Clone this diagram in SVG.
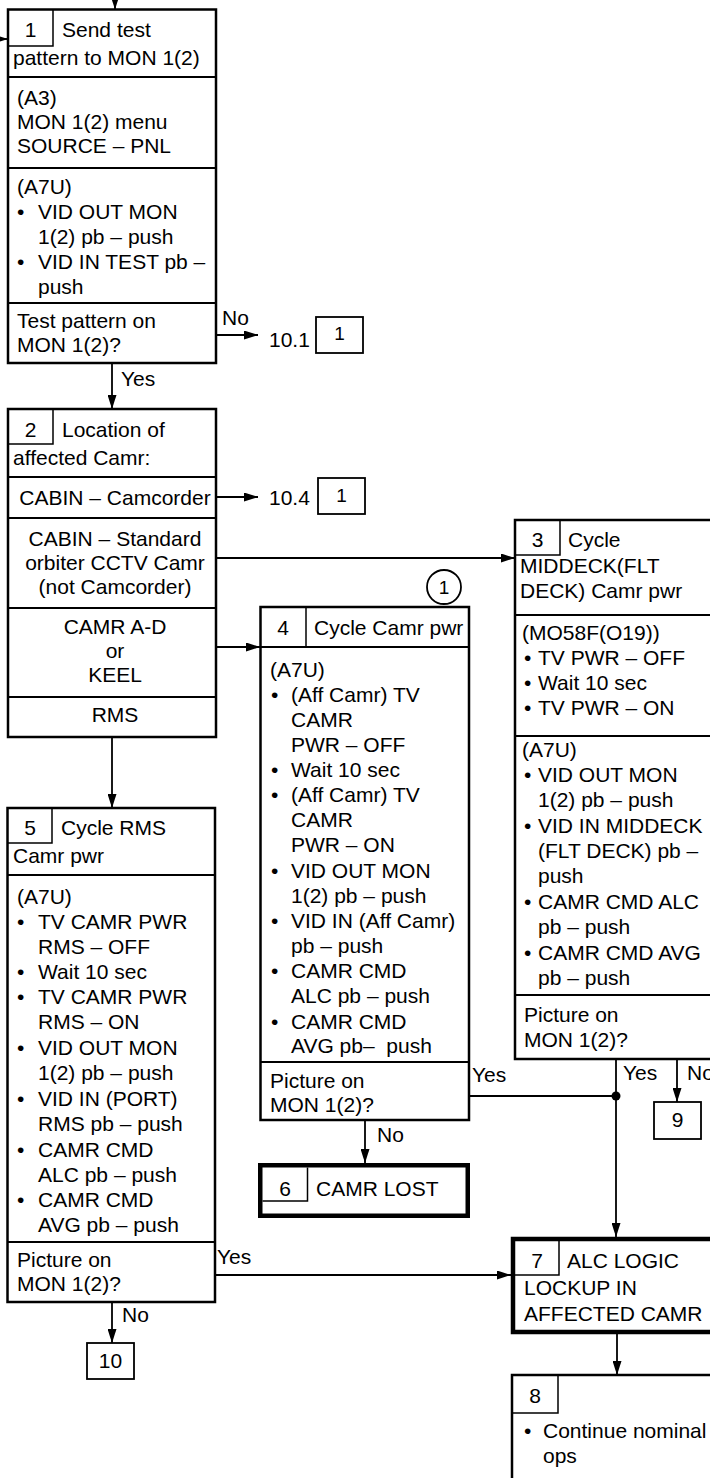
<svg xmlns="http://www.w3.org/2000/svg" width="710" height="1478" viewBox="0 0 710 1478">
<style>
text{font-family:"Liberation Sans",Arial,Helvetica,sans-serif;font-size:21px;fill:#000}
.c{text-anchor:middle}
.s{font-size:19px}
.box{fill:#fff;stroke:#000;stroke-width:2.5}
.thick{fill:#fff;stroke:#000;stroke-width:4.5}
.div{stroke:#000;stroke-width:2}
.sub{fill:none;stroke:#000;stroke-width:1.5}
.conn{stroke:#000;stroke-width:1.8;fill:none}
.arr{marker-end:url(#ah)}
.ref{fill:#fff;stroke:#000;stroke-width:1.8}
</style>
<defs>
<marker id="ah" markerUnits="userSpaceOnUse" markerWidth="14" markerHeight="9" refX="14" refY="4.5" orient="auto">
<path d="M0,0 L14,4.5 L0,9 z" fill="#000"/>
</marker>
</defs>
<rect width="710" height="1478" fill="#fff"/>

<g id="connectors">
<line class="conn arr" x1="115" y1="-10" x2="115" y2="9.5"/>
<line class="conn arr" x1="-10" y1="39" x2="8" y2="39"/>
<line class="conn arr" x1="216" y1="335" x2="258" y2="335"/>
<text x="222" y="325">No</text>
<line class="conn arr" x1="112" y1="363" x2="112" y2="409"/>
<text x="121" y="386">Yes</text>
<line class="conn arr" x1="216" y1="497" x2="258" y2="497"/>
<line class="conn arr" x1="216" y1="558" x2="515" y2="558"/>
<line class="conn arr" x1="216" y1="647" x2="260" y2="647"/>
<line class="conn arr" x1="112" y1="737" x2="112" y2="808"/>
<line class="conn arr" x1="365" y1="1120" x2="365" y2="1163"/>
<text x="377" y="1142">No</text>
<line class="conn" x1="469" y1="1096" x2="616" y2="1096"/>
<text x="472" y="1082">Yes</text>
<line class="conn arr" x1="616" y1="1059" x2="616" y2="1237"/>
<circle cx="616" cy="1096" r="4.5" fill="#000"/>
<text x="623" y="1080">Yes</text>
<line class="conn arr" x1="677" y1="1059" x2="677" y2="1102"/>
<text x="687" y="1080">No</text>
<line class="conn arr" x1="215" y1="1275" x2="511" y2="1275"/>
<text x="217" y="1264">Yes</text>
<line class="conn arr" x1="112" y1="1302" x2="112" y2="1343"/>
<text x="122" y="1322">No</text>
<line class="conn arr" x1="617" y1="1334" x2="617" y2="1375"/>
</g>

<g id="ref101">
<text x="269" y="347">10.1</text>
<rect class="ref" x="316" y="317" width="47" height="36"/>
<text class="c s" x="339.5" y="340">1</text>
</g>
<g id="ref104">
<text x="269" y="505">10.4</text>
<rect class="ref" x="318" y="478" width="47" height="36"/>
<text class="c s" x="341.5" y="502">1</text>
</g>

<g id="n1">
<rect class="box" x="8" y="9.5" width="208" height="353.5"/>
<path class="sub" d="M8,46 H53 V9.5"/>
<text class="c" x="30.5" y="37">1</text>
<text x="62" y="37">Send test</text>
<text x="13" y="65">pattern to MON 1(2)</text>
<line class="div" x1="8" y1="77" x2="216" y2="77"/>
<text x="17" y="105">(A3)</text>
<text x="17" y="129">MON 1(2) menu</text>
<text x="17" y="153">SOURCE – PNL</text>
<line class="div" x1="8" y1="168" x2="216" y2="168"/>
<text x="17" y="194">(A7U)</text>
<text x="17" y="219">•</text><text x="38" y="219">VID OUT MON</text>
<text x="38" y="244">1(2) pb – push</text>
<text x="17" y="269">•</text><text x="38" y="269">VID IN TEST pb –</text>
<text x="38" y="294">push</text>
<line class="div" x1="8" y1="303" x2="216" y2="303"/>
<text x="17" y="328">Test pattern on</text>
<text x="17" y="352">MON 1(2)?</text>
</g>

<g id="n2">
<rect class="box" x="8" y="409" width="208" height="328"/>
<path class="sub" d="M8,444 H53 V409"/>
<text class="c" x="30.5" y="437">2</text>
<text x="62" y="437">Location of</text>
<text x="13" y="465">affected Camr:</text>
<line class="div" x1="8" y1="477" x2="216" y2="477"/>
<text class="c" x="115" y="505">CABIN – Camcorder</text>
<line class="div" x1="8" y1="518" x2="216" y2="518"/>
<text class="c" x="115" y="546">CABIN – Standard</text>
<text class="c" x="115" y="570">orbiter CCTV Camr</text>
<text class="c" x="115" y="594">(not Camcorder)</text>
<line class="div" x1="8" y1="608" x2="216" y2="608"/>
<text class="c" x="115" y="634">CAMR A-D</text>
<text class="c" x="115" y="658">or</text>
<text class="c" x="115" y="682">KEEL</text>
<line class="div" x1="8" y1="697" x2="216" y2="697"/>
<text class="c" x="115" y="722">RMS</text>
</g>

<g id="n3">
<rect class="box" x="515" y="520" width="260" height="539"/>
<path class="sub" d="M515,555 H560 V520"/>
<text class="c" x="537.5" y="547">3</text>
<text x="568" y="547">Cycle</text>
<text x="520" y="573">MIDDECK(FLT</text>
<text x="520" y="598">DECK) Camr pwr</text>
<line class="div" x1="515" y1="615" x2="775" y2="615"/>
<text x="522" y="640">(MO58F(O19))</text>
<text x="524" y="665">•</text><text x="538" y="665">TV PWR – OFF</text>
<text x="524" y="690">•</text><text x="538" y="690">Wait 10 sec</text>
<text x="524" y="715">•</text><text x="538" y="715">TV PWR – ON</text>
<line class="div" x1="515" y1="736" x2="775" y2="736"/>
<text x="522" y="757">(A7U)</text>
<text x="524" y="782">•</text><text x="538" y="782">VID OUT MON</text>
<text x="538" y="807">1(2) pb – push</text>
<text x="524" y="833">•</text><text x="538" y="833">VID IN MIDDECK</text>
<text x="538" y="858">(FLT DECK) pb –</text>
<text x="538" y="883">push</text>
<text x="524" y="909">•</text><text x="538" y="909">CAMR CMD ALC</text>
<text x="538" y="934">pb – push</text>
<text x="524" y="960">•</text><text x="538" y="960">CAMR CMD AVG</text>
<text x="538" y="985">pb – push</text>
<line class="div" x1="515" y1="995" x2="775" y2="995"/>
<text x="524" y="1022">Picture on</text>
<text x="524" y="1047">MON 1(2)?</text>
</g>

<g id="n4">
<circle cx="444" cy="587" r="17" fill="#fff" stroke="#000" stroke-width="1.8"/>
<text class="c s" x="444" y="594">1</text>
<rect class="box" x="260.5" y="607" width="208.5" height="513"/>
<line class="div" x1="260.5" y1="647" x2="469" y2="647"/>
<line class="sub" x1="306" y1="607" x2="306" y2="647"/>
<text class="c" x="283" y="635">4</text>
<text x="314" y="635">Cycle Camr pwr</text>
<text x="270" y="677">(A7U)</text>
<text x="271" y="702">•</text><text x="291" y="702">(Aff Camr) TV</text>
<text x="291" y="727">CAMR</text>
<text x="291" y="752">PWR – OFF</text>
<text x="271" y="777">•</text><text x="291" y="777">Wait 10 sec</text>
<text x="271" y="802">•</text><text x="291" y="802">(Aff Camr) TV</text>
<text x="291" y="827">CAMR</text>
<text x="291" y="852">PWR – ON</text>
<text x="271" y="878">•</text><text x="291" y="878">VID OUT MON</text>
<text x="291" y="903">1(2) pb – push</text>
<text x="271" y="928">•</text><text x="291" y="928">VID IN (Aff Camr)</text>
<text x="291" y="953">pb – push</text>
<text x="271" y="978">•</text><text x="291" y="978">CAMR CMD</text>
<text x="291" y="1003">ALC pb – push</text>
<text x="271" y="1029">•</text><text x="291" y="1029">CAMR CMD</text>
<text x="291" y="1053">AVG pb–&#160; push</text>
<line class="div" x1="260.5" y1="1062" x2="469" y2="1062"/>
<text x="270" y="1088">Picture on</text>
<text x="270" y="1112">MON 1(2)?</text>
</g>

<g id="n5">
<rect class="box" x="7.5" y="808" width="207.5" height="494"/>
<path class="sub" d="M7.5,843 H52 V808"/>
<text class="c" x="30" y="835">5</text>
<text x="61" y="835">Cycle RMS</text>
<text x="13" y="863">Camr pwr</text>
<line class="div" x1="7.5" y1="875" x2="215" y2="875"/>
<text x="17" y="904">(A7U)</text>
<text x="17" y="929">•</text><text x="38" y="929">TV CAMR PWR</text>
<text x="38" y="954">RMS – OFF</text>
<text x="17" y="979">•</text><text x="38" y="979">Wait 10 sec</text>
<text x="17" y="1004">•</text><text x="38" y="1004">TV CAMR PWR</text>
<text x="38" y="1029">RMS – ON</text>
<text x="17" y="1055">•</text><text x="38" y="1055">VID OUT MON</text>
<text x="38" y="1080">1(2) pb – push</text>
<text x="17" y="1106">•</text><text x="38" y="1106">VID IN (PORT)</text>
<text x="38" y="1131">RMS pb – push</text>
<text x="17" y="1157">•</text><text x="38" y="1157">CAMR CMD</text>
<text x="38" y="1182">ALC pb – push</text>
<text x="17" y="1207">•</text><text x="38" y="1207">CAMR CMD</text>
<text x="38" y="1232">AVG pb – push</text>
<line class="div" x1="7.5" y1="1242" x2="215" y2="1242"/>
<text x="17" y="1267">Picture on</text>
<text x="17" y="1291">MON 1(2)?</text>
</g>

<g id="n6">
<rect class="thick" x="260.25" y="1165.25" width="207.5" height="50.5"/>
<path class="sub" d="M262.5,1201 H307.5 V1167.5"/>
<text class="c" x="285" y="1196">6</text>
<text x="316" y="1196">CAMR LOST</text>
</g>

<g id="n7">
<rect class="thick" x="513" y="1239" width="260" height="93"/>
<path class="sub" d="M515,1275 H559 V1241"/>
<text class="c" x="537" y="1268">7</text>
<text x="567" y="1268">ALC LOGIC</text>
<text x="524" y="1295">LOCKUP IN</text>
<text x="524" y="1321">AFFECTED CAMR</text>
</g>

<g id="n8">
<rect class="box" x="512" y="1375" width="260" height="150"/>
<path class="sub" d="M512,1413 H558 V1375"/>
<text class="c" x="535" y="1403">8</text>
<text x="524" y="1438">•</text><text x="543" y="1438">Continue nominal</text>
<text x="543" y="1463">ops</text>
</g>

<g id="n9">
<rect class="ref" x="654" y="1102" width="47" height="37"/>
<text class="c" x="677.5" y="1127">9</text>
</g>

<g id="n10">
<rect class="ref" x="87" y="1343" width="47" height="36"/>
<text class="c" x="110.5" y="1368">10</text>
</g>
</svg>
